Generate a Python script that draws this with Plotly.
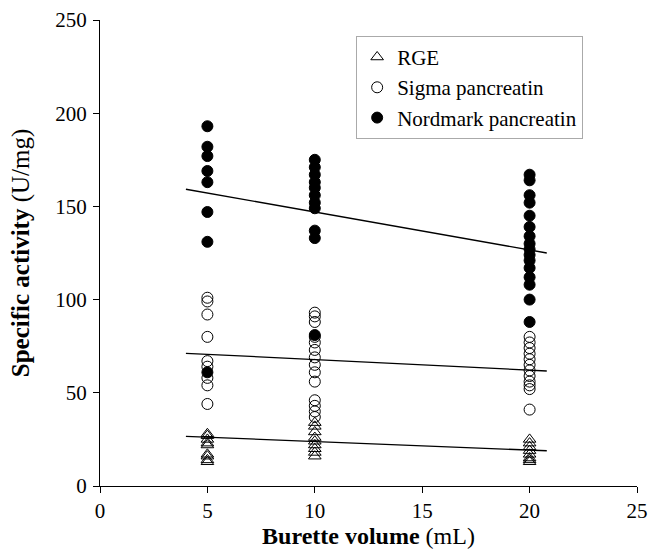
import plotly.graph_objects as go

# Burette volumes (mL)
volumes = [5, 10, 20]

# Specific activity values (U/mg) per burette volume
rge = {
    5: [28, 27, 25, 23, 22, 17, 16, 14, 13],
    10: [34, 32, 29, 26, 24, 22, 20, 18, 16],
    20: [25, 23, 21, 19, 17, 15, 14, 13],
}
sigma = {
    5: [101, 99, 92, 80, 67, 64, 58, 54, 44],
    10: [93, 91, 88, 80, 77, 73, 69, 65, 61, 56, 46, 43, 40, 37],
    20: [80, 77, 74, 71, 68, 65, 62, 59, 56, 54, 52, 41],
}
nordmark = {
    5: [193, 182, 177, 169, 163, 147, 131, 61],
    10: [175, 171, 167, 163, 160, 156, 152, 149, 137, 133, 81],
    20: [167, 164, 156, 152, 145, 139, 134, 130, 127, 124, 121, 117, 112, 108, 100, 88],
}

# Regression line end points
fit_x = [4.0, 20.8]
rge_fit = [26.6, 18.9]
sigma_fit = [71.2, 61.7]
nord_fit = [159.2, 125.0]

x_ticks = [0, 5, 10, 15, 20, 25]
y_ticks = [0, 50, 100, 150, 200, 250]


def flatten(d):
    xs, ys = [], []
    for v in volumes:
        xs += [v] * len(d[v])
        ys += d[v]
    return xs, ys


FONT = "Liberation Serif"
fig = go.Figure()

for name, d, sym in [
    ("RGE", rge, "triangle-up-open"),
    ("Sigma pancreatin", sigma, "circle-open"),
    ("Nordmark pancreatin", nordmark, "circle"),
]:
    xs, ys = flatten(d)
    fig.add_trace(go.Scatter(
        x=xs, y=ys, mode="markers", name=name,
        marker=dict(symbol=sym, size=11, color="black",
                    line=dict(color="black", width=1)),
    ))

for fy in [rge_fit, sigma_fit, nord_fit]:
    fig.add_trace(go.Scatter(
        x=fit_x, y=fy, mode="lines", showlegend=False,
        line=dict(color="black", width=1.3), hoverinfo="skip",
    ))

fig.update_layout(
    width=651, height=549,
    margin=dict(l=100, r=14, t=20, b=63),
    paper_bgcolor="white", plot_bgcolor="white",
    font=dict(family=FONT, color="black", size=21),
    legend=dict(
        x=0.477, y=0.966, xanchor="left", yanchor="top",
        bordercolor="#aaaaaa", borderwidth=1, bgcolor="white",
        font=dict(family=FONT, size=21), tracegroupgap=0,
        itemwidth=30,
    ),
    showlegend=True,
)
fig.update_xaxes(
    range=[0, 25], tickvals=x_ticks, showgrid=False, zeroline=False,
    showline=True, linecolor="black", linewidth=1, automargin=False,
    ticks="outside", ticklen=6, tickcolor="black",
    ticklabeloverflow="allow",
    tickfont=dict(family=FONT, size=21),
    title=dict(text="<b>Burette volume</b> (mL)",
               font=dict(family=FONT, size=24), standoff=22),
)
fig.update_yaxes(
    range=[0, 250], tickvals=y_ticks, showgrid=False, zeroline=False,
    showline=True, linecolor="black", linewidth=1, automargin=False,
    ticks="outside", ticklen=6, tickcolor="black",
    ticklabeloverflow="allow", ticklabelstandoff=2,
    tickfont=dict(family=FONT, size=21),
    title=dict(text="<b>Specific activity</b> (U/mg)",
               font=dict(family=FONT, size=25), standoff=18),
)

fig.write_html(
    "out.html",
    config={"displayModeBar": False},
    post_script="document.body.style.margin='0';document.body.style.overflow='hidden';",
)
